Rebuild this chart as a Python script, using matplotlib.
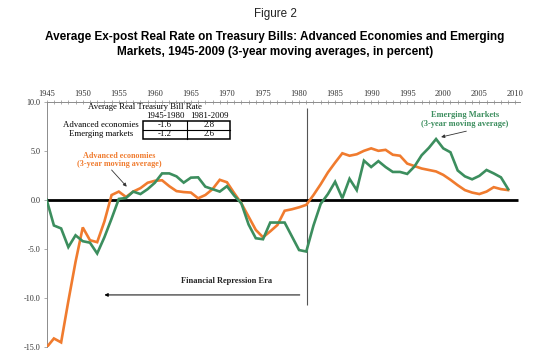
import matplotlib
matplotlib.use("Agg")
import matplotlib.pyplot as plt
import matplotlib.patches as mpatches
import numpy as np

# ── Data ────────────────────────────────────────────────────────────────────
YEARS = list(range(1945, 2010))

ADVANCED = [
    -15.0, -14.1, -14.5, -10.3, -6.3, -2.8, -4.1, -4.3, -2.2, 0.5,     # 1945-54
    0.85, 0.3, 0.85, 1.2, 1.75, 1.95, 2.0, 1.4, 0.9, 0.8,              # 1955-64
    0.75, 0.17, 0.5, 1.1, 2.05, 1.8, 0.7, -0.35, -1.7, -3.05,          # 1965-74
    -3.8, -3.2, -2.55, -1.1, -0.95, -0.75, -0.5, 0.5, 1.6, 2.8,        # 1975-84
    3.8, 4.75, 4.5, 4.65, 5.0, 5.25, 5.0, 5.1, 4.6, 4.5,               # 1985-94
    3.7, 3.45, 3.2, 3.05, 2.9, 2.55, 2.05, 1.5, 1.0, 0.75,             # 1995-2004
    0.6, 0.85, 1.3, 1.1, 1.0,                                          # 2005-09
]

EMERGING = [
    0.0, -2.6, -2.9, -4.8, -3.6, -4.2, -4.35, -5.45, -3.8, -1.9,      # 1945-54
    0.1, 0.2, 0.85, 0.6, 1.1, 1.75, 2.7, 2.7, 2.4, 1.76,               # 1955-64
    2.27, 2.3, 1.35, 1.1, 0.85, 1.4, 0.45, -0.35, -2.5, -3.9,          # 1965-74
    -4.0, -2.3, -2.3, -2.3, -3.7, -5.1, -5.25, -2.6, -0.4, 0.6,        # 1975-84
    1.85, 0.17, 2.15, 1.0, 4.0, 3.35, 3.95, 3.35, 2.85, 2.85,          # 1985-94
    2.65, 3.4, 4.55, 5.3, 6.2, 5.25, 4.85, 3.0, 2.4, 2.1,              # 1995-2004
    2.45, 3.05, 2.7, 2.3, 1.1,                                         # 2005-09
]

PERIODS = ["1945-1980", "1981-2009"]
GROUPS = ["Advanced economies", "Emerging markets"]
TABLE_VALUES = [["-1.6", "2.8"], ["-1.2", "2.6"]]

X_TICKS = list(range(1945, 2011, 5))
Y_TICKS = [10, 5, 0, -5, -10, -15]

# ── Style ───────────────────────────────────────────────────────────────────
ORANGE = "#F07B2E"
GREEN = "#3C8E5E"
AXIS_GRAY = "#8c8c8c"
SERIF = "Liberation Serif"
SANS = "Liberation Sans"

fig = plt.figure(figsize=(5.5, 3.57), dpi=100)
fig.set_facecolor("white")
ax = fig.add_axes([46.7 / 550, 1 - 347.3 / 357, 473 / 550, (347.3 - 101.7) / 357])

ax.plot(YEARS, ADVANCED, color=ORANGE, lw=1.9, zorder=4, solid_joinstyle="miter")
ax.plot(YEARS, EMERGING, color=GREEN, lw=1.9, zorder=4, solid_joinstyle="miter")

# zero line and regime divider
ax.hlines(0, 1945, 2010.3, color="black", lw=2.0, zorder=3)
ax.vlines(1981.05, -10.7, 9.35, color="#555555", lw=0.8, zorder=2)

ax.set_xlim(1945, 2010.6)
ax.set_ylim(-15, 10)

# ── Axes ────────────────────────────────────────────────────────────────────
ax.xaxis.tick_top()
ax.set_xticks(X_TICKS)
ax.set_xticks(range(1945, 2011), minor=True)
ax.set_xticklabels([str(y) for y in X_TICKS], fontsize=6.0, family=SERIF, color="#333333")
ax.set_yticks(Y_TICKS)
ax.set_yticklabels([f"{v:.1f}" for v in Y_TICKS], fontsize=5.9, family=SERIF, color="#333333")
ax.tick_params(axis="x", which="both", direction="inout", length=3, width=0.5,
               color=AXIS_GRAY, pad=1.5)
ax.tick_params(axis="y", direction="out", length=2.5, width=0.5, color=AXIS_GRAY, pad=2)

for s in ["right", "bottom"]:
    ax.spines[s].set_visible(False)
for s in ["top", "left"]:
    ax.spines[s].set_color(AXIS_GRAY)
    ax.spines[s].set_linewidth(0.7)

# ── Annotations ─────────────────────────────────────────────────────────────
ax.annotate("", xy=(1953.0, -9.67), xytext=(1980.1, -9.67),
            arrowprops=dict(arrowstyle="-|>", color="black", lw=0.7,
                            mutation_scale=5, shrinkA=0, shrinkB=0))
ax.text(1970.0, -8.3, "Financial Repression Era", ha="center", va="center",
        fontsize=6.0, family=SERIF, fontweight="bold", color="#222222")

ax.text(1955.1, 4.1, "Advanced economies\n(3-year moving average)", ha="center",
        va="center", fontsize=5.9, family=SERIF, fontweight="bold", color=ORANGE,
        linespacing=1.05)
ax.annotate("", xy=(1956.1, 1.35), xytext=(1954.0, 3.05),
            arrowprops=dict(arrowstyle="-|>", color="#333333", lw=0.6,
                            mutation_scale=5, shrinkA=0, shrinkB=0))

ax.text(2003.0, 8.2, "Emerging Markets\n(3-year moving average)", ha="center",
        va="center", fontsize=6.0, family=SERIF, fontweight="bold", color=GREEN,
        linespacing=1.05)
ax.annotate("", xy=(1999.7, 6.4), xytext=(2003.2, 7.0),
            arrowprops=dict(arrowstyle="-|>", color="#333333", lw=0.6,
                            mutation_scale=5, shrinkA=0, shrinkB=0))

# ── Inset table ─────────────────────────────────────────────────────────────
ax.text(1958.6, 9.47, "Average Real Treasury Bill Rate", ha="center", va="center",
        fontsize=6.3, family=SERIF, color="black")
col_x = [1961.4, 1967.5]
row_y = [7.64, 6.67]
for cx, period in zip(col_x, PERIODS):
    ax.text(cx, 8.5, period, ha="center", va="center", fontsize=6.3, family=SERIF)
for ry, group, vals in zip(row_y, GROUPS, TABLE_VALUES):
    ax.text(1952.5, ry, group, ha="center", va="center", fontsize=6.3, family=SERIF)
    for cx, v in zip(col_x, vals):
        ax.text(cx, ry, v, ha="center", va="center", fontsize=6.3, family=SERIF)
ax.add_patch(mpatches.Rectangle((1958.4, 6.22), 12.0, 1.86, fill=False,
                                edgecolor="black", lw=1.1, zorder=5))
ax.plot([1964.5, 1964.5], [6.22, 8.08], color="black", lw=0.8, zorder=5)
ax.plot([1958.4, 1970.4], [7.13, 7.13], color="black", lw=0.8, zorder=5)

# ── Titles ──────────────────────────────────────────────────────────────────
fig.text(0.5, 1 - 13.5 / 357, "Figure 2", ha="center", va="center",
         fontsize=8.4, family=SANS, color="#222222")
fig.text(0.5, 1 - 36.7 / 357,
         "Average Ex-post Real Rate on Treasury Bills: Advanced Economies and Emerging",
         ha="center", va="center", fontsize=8.5, family=SANS, fontweight="bold")
fig.text(0.5, 1 - 51.7 / 357,
         "Markets, 1945-2009 (3-year moving averages, in percent)",
         ha="center", va="center", fontsize=8.5, family=SANS, fontweight="bold")

fig.savefig("out.png", dpi=100, facecolor="white")
